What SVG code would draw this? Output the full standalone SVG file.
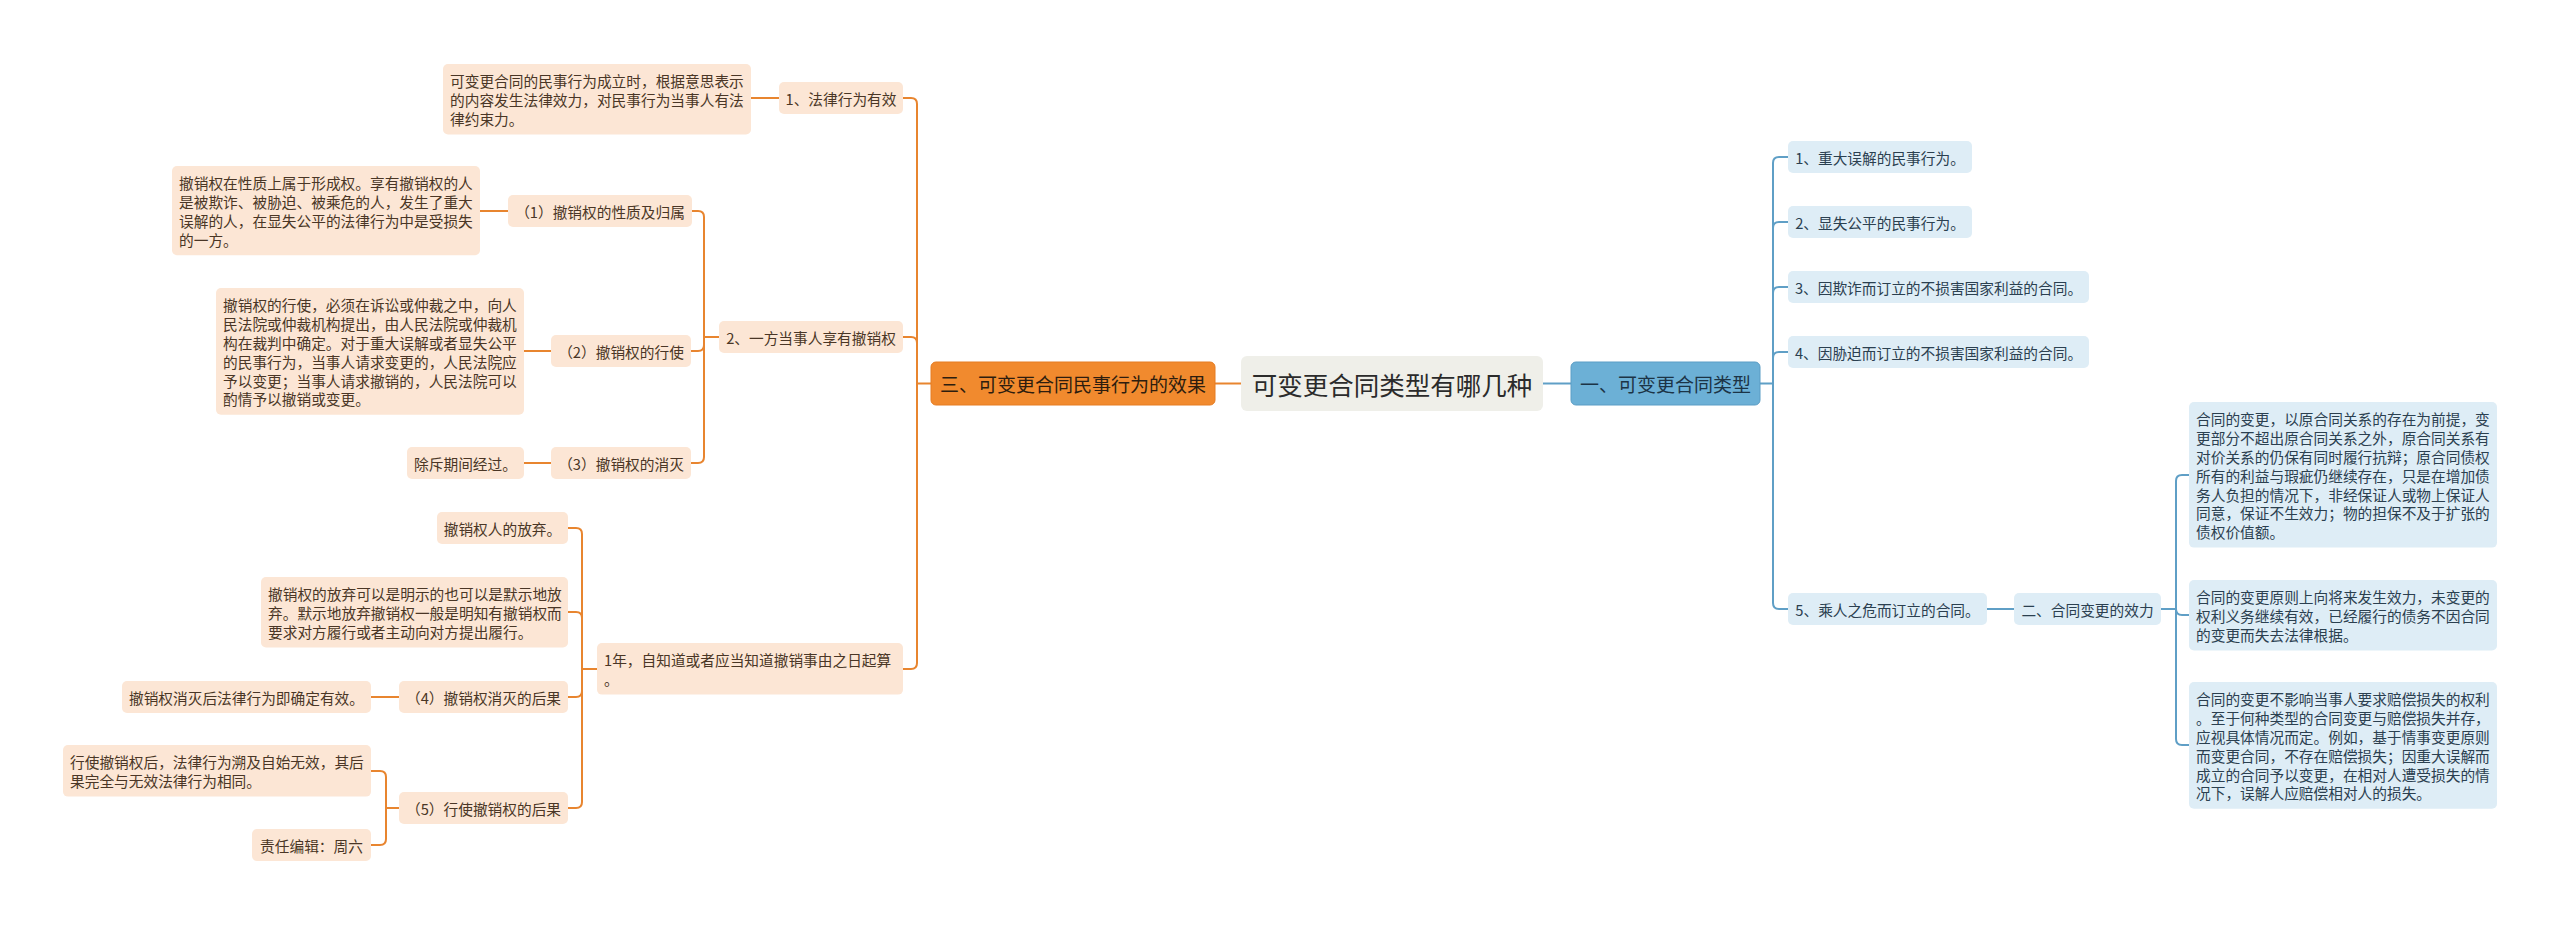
<svg xmlns="http://www.w3.org/2000/svg" width="2560" height="925" viewBox="0 0 2560 925">
<style>
.pk{fill:#fce6d5}
.bl{fill:#deedf6}
.t{font-family:'Noto Sans CJK SC','Noto Sans',sans-serif;font-size:14.7px;dominant-baseline:central}
.to{fill:#4a3626}
.tb{fill:#2b4050}
.m{text-anchor:middle}
.co{stroke:#e8852f;fill:none;stroke-width:2}
.cb{stroke:#5f9fc6;fill:none;stroke-width:2}
</style>
<rect width="2560" height="925" fill="#ffffff"/>
<g id="connectors">
<path class="co" d="M1241 383.5H1215"/>
<path class="co" d="M931 383.5H917M917 383.5V104Q917 98 911 98H903M917 383.5V343Q917 337 911 337H903M917 383.5V663Q917 669 911 669H903"/>
<path class="co" d="M779 98H750"/>
<path class="co" d="M719 337H704M704 337V217Q704 211 698 211H692M704 337V345Q704 351 698 351H691M704 337V457Q704 463 698 463H691"/>
<path class="co" d="M508 211H479M552 351H524M552 463H524"/>
<path class="co" d="M597 669H582M582 669V534Q582 528 576 528H568M582 669V618Q582 612 576 612H568M582 669V691Q582 697 576 697H568M582 669V802Q582 808 576 808H568"/>
<path class="co" d="M399 697H371"/>
<path class="co" d="M399 808H386M386 808V777Q386 771 380 771H371M386 808V839Q386 845 380 845H371"/>
<path class="cb" d="M1543 383.5H1571"/>
<path class="cb" d="M1760 383.5H1773M1773 383.5V163Q1773 157 1779 157H1788M1773 383.5V228Q1773 222 1779 222H1788M1773 383.5V293Q1773 287 1779 287H1788M1773 383.5V358Q1773 352 1779 352H1788M1773 383.5V603Q1773 609 1779 609H1788"/>
<path class="cb" d="M1987 609H2014"/>
<path class="cb" d="M2161 609H2176M2176 609V481Q2176 475 2182 475H2189M2176 609Q2176 615 2182 615H2189M2176 609V739Q2176 745 2182 745H2189"/>
</g>
<g id="root">
<rect x="1241" y="356" width="302" height="55" rx="6" fill="#efefe9"/>
<text x="1392" y="383.5" class="m" font-family="'Noto Sans CJK SC','Noto Sans',sans-serif" font-size="25.5" dominant-baseline="central" fill="#2b2b2b">可变更合同类型有哪几种</text>
</g>
<g id="main-left">
<rect x="931" y="362" width="284" height="43" rx="5" fill="#f18a2e" stroke="#e57c22" stroke-width="1"/>
<text x="1073" y="383.5" class="m" font-family="'Noto Sans CJK SC','Noto Sans',sans-serif" font-size="19" dominant-baseline="central" fill="#2e1d0e">三、可变更合同民事行为的效果</text>
</g>
<g id="main-right">
<rect x="1571" y="362" width="189" height="43" rx="5" fill="#6cb0d6" stroke="#5b9dc5" stroke-width="1"/>
<text x="1665.5" y="383.5" class="m" font-family="'Noto Sans CJK SC','Noto Sans',sans-serif" font-size="19" dominant-baseline="central" fill="#1c3446">一、可变更合同类型</text>
</g>
<g id="l-n1"><rect class="pk" x="779" y="82" width="124" height="32" rx="5"/><text class="t to m" x="841" y="98">1、法律行为有效</text></g>
<g id="l-leafA"><rect class="pk" x="443" y="64" width="308" height="70.4" rx="5"/>
<text class="t to" x="450"><tspan x="450" y="80.4">可变更合同的民事行为成立时，根据意思表示</tspan><tspan x="450" y="99.2">的内容发生法律效力，对民事行为当事人有法</tspan><tspan x="450" y="118">律约束力。</tspan></text></g>
<g id="l-n2"><rect class="pk" x="719" y="321" width="184" height="32" rx="5"/><text class="t to m" x="811" y="337">2、一方当事人享有撤销权</text></g>
<g id="l-s1"><rect class="pk" x="508" y="195" width="184" height="32" rx="5"/><text class="t to m" x="600" y="211">（1）撤销权的性质及归属</text></g>
<g id="l-leafB"><rect class="pk" x="172" y="166" width="308" height="89.2" rx="5"/>
<text class="t to" x="179"><tspan x="179" y="182.4">撤销权在性质上属于形成权。享有撤销权的人</tspan><tspan x="179" y="201.2">是被欺诈、被胁迫、被乘危的人，发生了重大</tspan><tspan x="179" y="220">误解的人，在显失公平的法律行为中是受损失</tspan><tspan x="179" y="238.8">的一方。</tspan></text></g>
<g id="l-s2"><rect class="pk" x="551" y="335" width="140" height="32" rx="5"/><text class="t to m" x="621" y="351">（2）撤销权的行使</text></g>
<g id="l-leafC"><rect class="pk" x="216" y="288" width="308" height="126.8" rx="5"/>
<text class="t to" x="223"><tspan x="223" y="304.4">撤销权的行使，必须在诉讼或仲裁之中，向人</tspan><tspan x="223" y="323.2">民法院或仲裁机构提出，由人民法院或仲裁机</tspan><tspan x="223" y="342">构在裁判中确定。对于重大误解或者显失公平</tspan><tspan x="223" y="360.8">的民事行为，当事人请求变更的，人民法院应</tspan><tspan x="223" y="379.6">予以变更；当事人请求撤销的，人民法院可以</tspan><tspan x="223" y="398.4">酌情予以撤销或变更。</tspan></text></g>
<g id="l-s3"><rect class="pk" x="551" y="447" width="140" height="32" rx="5"/><text class="t to m" x="621" y="463">（3）撤销权的消灭</text></g>
<g id="l-leafD"><rect class="pk" x="407" y="447" width="117" height="32" rx="5"/><text class="t to m" x="465.5" y="463">除斥期间经过。</text></g>
<g id="l-n3"><rect class="pk" x="597" y="643" width="306" height="51.6" rx="5"/>
<text class="t to" x="604"><tspan x="604" y="659.4">1年，自知道或者应当知道撤销事由之日起算</tspan><tspan x="604" y="678.2">。</tspan></text></g>
<g id="l-giveup"><rect class="pk" x="437" y="512" width="131" height="32" rx="5"/><text class="t to m" x="502.5" y="528">撤销权人的放弃。</text></g>
<g id="l-leafE"><rect class="pk" x="261" y="577" width="307" height="70.4" rx="5"/>
<text class="t to" x="268"><tspan x="268" y="593.4">撤销权的放弃可以是明示的也可以是默示地放</tspan><tspan x="268" y="612.2">弃。默示地放弃撤销权一般是明知有撤销权而</tspan><tspan x="268" y="631">要求对方履行或者主动向对方提出履行。</tspan></text></g>
<g id="l-s4"><rect class="pk" x="399" y="681" width="169" height="32" rx="5"/><text class="t to m" x="483.5" y="697">（4）撤销权消灭的后果</text></g>
<g id="l-leafF"><rect class="pk" x="122" y="681" width="249" height="32" rx="5"/><text class="t to m" x="246.5" y="697">撤销权消灭后法律行为即确定有效。</text></g>
<g id="l-s5"><rect class="pk" x="399" y="792" width="169" height="32" rx="5"/><text class="t to m" x="483.5" y="808">（5）行使撤销权的后果</text></g>
<g id="l-leafG"><rect class="pk" x="63" y="745" width="308" height="51.6" rx="5"/>
<text class="t to" x="70"><tspan x="70" y="761.4">行使撤销权后，法律行为溯及自始无效，其后</tspan><tspan x="70" y="780.2">果完全与无效法律行为相同。</tspan></text></g>
<g id="l-editor"><rect class="pk" x="252" y="829" width="119" height="32" rx="5"/><text class="t to m" x="311.5" y="845">责任编辑：周六</text></g>
<g id="r-1"><rect class="bl" x="1788" y="141" width="184" height="32" rx="5"/><text class="t tb m" x="1880" y="157">1、重大误解的民事行为。</text></g>
<g id="r-2"><rect class="bl" x="1788" y="206" width="184" height="32" rx="5"/><text class="t tb m" x="1880" y="222">2、显失公平的民事行为。</text></g>
<g id="r-3"><rect class="bl" x="1788" y="271" width="301" height="32" rx="5"/><text class="t tb m" x="1938.5" y="287">3、因欺诈而订立的不损害国家利益的合同。</text></g>
<g id="r-4"><rect class="bl" x="1788" y="336" width="301" height="32" rx="5"/><text class="t tb m" x="1938.5" y="352">4、因胁迫而订立的不损害国家利益的合同。</text></g>
<g id="r-5"><rect class="bl" x="1788" y="593" width="199" height="32" rx="5"/><text class="t tb m" x="1887.5" y="609">5、乘人之危而订立的合同。</text></g>
<g id="r-6"><rect class="bl" x="2014" y="593" width="147" height="32" rx="5"/><text class="t tb m" x="2087.5" y="609">二、合同变更的效力</text></g>
<g id="r-leaf1"><rect class="bl" x="2189" y="402" width="308" height="145.6" rx="5"/>
<text class="t tb" x="2196"><tspan x="2196" y="418.4">合同的变更，以原合同关系的存在为前提，变</tspan><tspan x="2196" y="437.2">更部分不超出原合同关系之外，原合同关系有</tspan><tspan x="2196" y="456">对价关系的仍保有同时履行抗辩；原合同债权</tspan><tspan x="2196" y="474.8">所有的利益与瑕疵仍继续存在，只是在增加债</tspan><tspan x="2196" y="493.6">务人负担的情况下，非经保证人或物上保证人</tspan><tspan x="2196" y="512.4">同意，保证不生效力；物的担保不及于扩张的</tspan><tspan x="2196" y="531.2">债权价值额。</tspan></text></g>
<g id="r-leaf2"><rect class="bl" x="2189" y="580" width="308" height="70.4" rx="5"/>
<text class="t tb" x="2196"><tspan x="2196" y="596.4">合同的变更原则上向将来发生效力，未变更的</tspan><tspan x="2196" y="615.2">权利义务继续有效，已经履行的债务不因合同</tspan><tspan x="2196" y="634">的变更而失去法律根据。</tspan></text></g>
<g id="r-leaf3"><rect class="bl" x="2189" y="682" width="308" height="126.8" rx="5"/>
<text class="t tb" x="2196"><tspan x="2196" y="698.4">合同的变更不影响当事人要求赔偿损失的权利</tspan><tspan x="2196" y="717.2">。至于何种类型的合同变更与赔偿损失并存，</tspan><tspan x="2196" y="736">应视具体情况而定。例如，基于情事变更原则</tspan><tspan x="2196" y="754.8">而变更合同，不存在赔偿损失；因重大误解而</tspan><tspan x="2196" y="773.6">成立的合同予以变更，在相对人遭受损失的情</tspan><tspan x="2196" y="792.4">况下，误解人应赔偿相对人的损失。</tspan></text></g>
</svg>
